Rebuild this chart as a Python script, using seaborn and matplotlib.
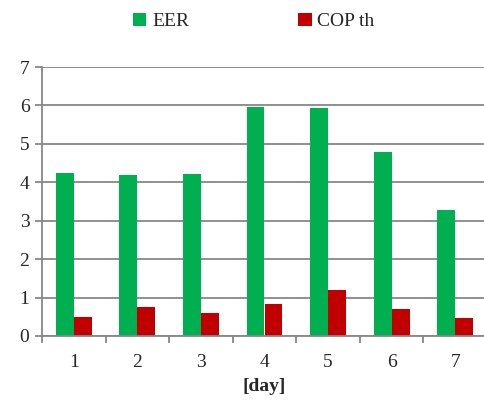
import seaborn as sns
import pandas as pd
import matplotlib.pyplot as plt
from matplotlib.patches import Patch
from matplotlib.ticker import FixedLocator

days = ['1', '2', '3', '4', '5', '6', '7']
eer = [4.25, 4.18, 4.21, 5.97, 5.94, 4.80, 3.29]
cop_th = [0.49, 0.76, 0.61, 0.84, 1.19, 0.70, 0.48]
series = ['EER', 'COP th']
colors = ['#00B050', '#C00000']

df = pd.DataFrame({
    'day': days * 2,
    'value': eer + cop_th,
    'series': [series[0]] * len(days) + [series[1]] * len(days),
})

sns.set_style('white')
plt.rcParams['font.family'] = ['Liberation Serif', 'DejaVu Serif']

fig = plt.figure(figsize=(4.85, 4.05), dpi=100)
ax = fig.add_axes([42 / 485, 69 / 405, 445 / 485, 269 / 405])

sns.barplot(data=df, x='day', y='value', hue='series', palette=colors,
            width=0.565, gap=0, dodge=True, ax=ax, legend=False,
            edgecolor='none', saturation=1)

grid_c = '#878787'
ax.set_ylim(0, 7)
ax.set_xlim(-0.5, len(days) - 0.5)
ax.set_yticks(range(0, 8))
ax.yaxis.grid(True, color=grid_c, linewidth=1.3)
ax.set_axisbelow(True)
for s in ['top', 'right']:
    ax.spines[s].set_visible(False)
for s in ['left', 'bottom']:
    ax.spines[s].set_color(grid_c)
    ax.spines[s].set_linewidth(1.3)

ax.tick_params(axis='y', direction='out', length=5, width=1.3, color=grid_c,
               labelsize=14, pad=4, left=True)
ax.tick_params(axis='x', which='major', length=0, labelsize=14, pad=13)
ax.xaxis.set_minor_locator(FixedLocator([i - 0.5 for i in range(len(days) + 1)]))
ax.tick_params(axis='x', which='minor', direction='out', length=5, width=1.3,
               color=grid_c, bottom=True)
ax.set_ylabel('')
ax.set_xlabel('[day]', fontsize=14, fontweight='bold', labelpad=5)

handles = [Patch(facecolor=c, edgecolor='none') for c in colors]
fig.legend(handles, series, loc='upper center', bbox_to_anchor=(0.523, 1.012),
           ncol=2, frameon=False, fontsize=14, handlelength=0.7,
           handleheight=0.7, handletextpad=0.3, columnspacing=5.6)

fig.savefig('out.png', dpi=100)
